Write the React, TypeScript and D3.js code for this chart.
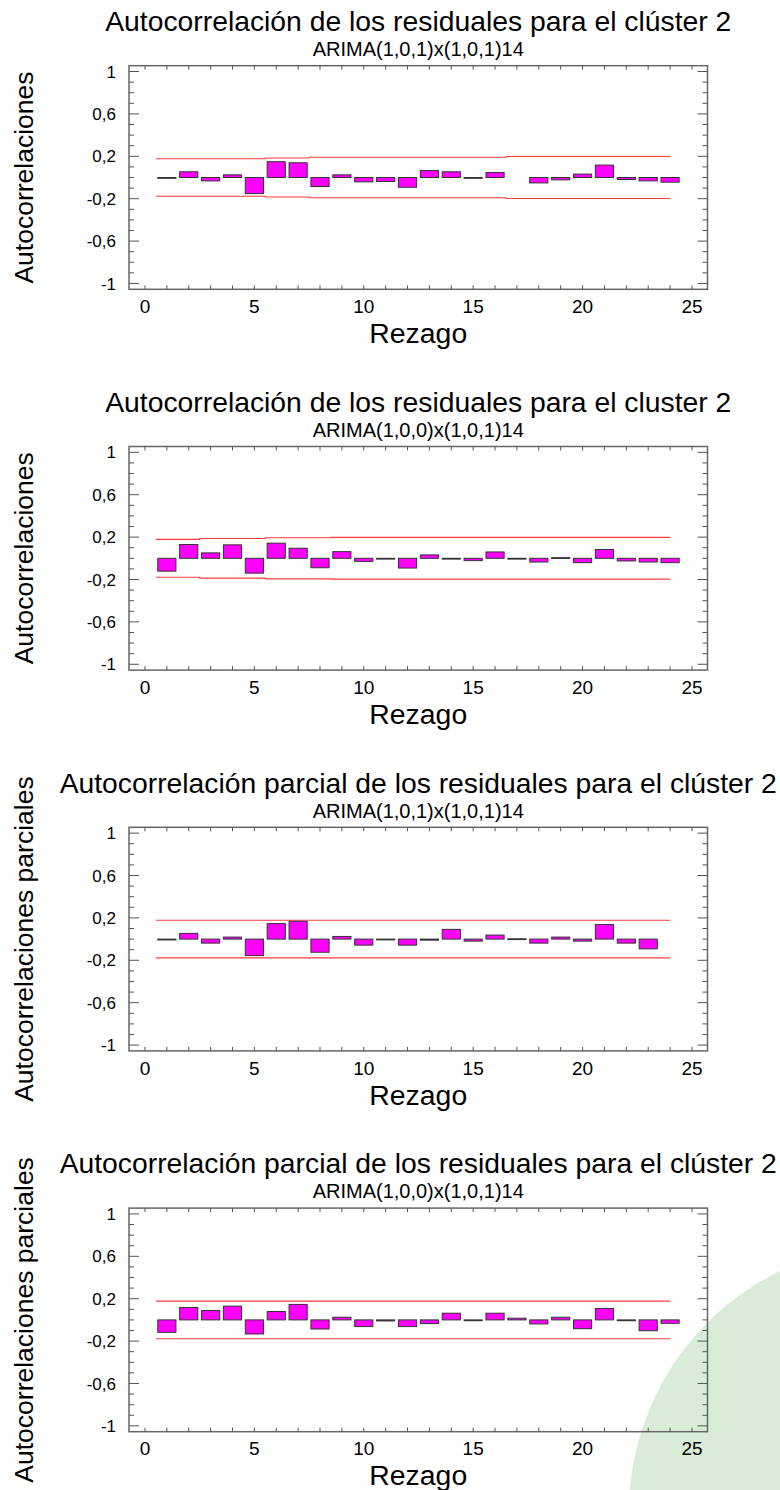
import React from "react";
import * as d3 from "d3";

// Lags 1..24 shown on every panel
const lags = d3.range(1, 25);
const xTicks = [0, 5, 10, 15, 20, 25];
const yTicks = [1, 0.6, 0.2, -0.2, -0.6, -1];
const yTickLabels = ["1", "0,6", "0,2", "-0,2", "-0,6", "-1"];

// Residual autocorrelations, ARIMA(1,0,1)x(1,0,1)14
const acfArima101 = [
  -0.005, 0.054, -0.032, 0.025, -0.152, 0.149, 0.139, -0.085, 0.025, -0.041, -0.038, -0.092,
  0.066, 0.054, -0.003, 0.047, 0, -0.051, -0.022, 0.032, 0.117, -0.019, -0.032, -0.044,
];
const acfLimit101 = [
  0.177, 0.177, 0.177, 0.177, 0.177, 0.184, 0.184, 0.191, 0.191, 0.191, 0.191, 0.191,
  0.191, 0.191, 0.191, 0.191, 0.198, 0.198, 0.198, 0.198, 0.198, 0.198, 0.198, 0.198,
];

// Residual autocorrelations, ARIMA(1,0,0)x(1,0,1)14
const acfArima100 = [
  -0.121, 0.13, 0.051, 0.127, -0.14, 0.143, 0.095, -0.089, 0.063, -0.029, -0.006, -0.092,
  0.032, -0.003, -0.022, 0.06, -0.003, -0.035, 0.006, -0.041, 0.083, -0.025, -0.035, -0.041,
];
const acfLimit100 = [
  0.179, 0.179, 0.187, 0.187, 0.187, 0.194, 0.194, 0.194, 0.197, 0.197, 0.197, 0.197,
  0.197, 0.197, 0.197, 0.197, 0.197, 0.197, 0.197, 0.197, 0.197, 0.197, 0.197, 0.197,
];

// Residual partial autocorrelations, ARIMA(1,0,1)x(1,0,1)14 (23 lags)
const pacfArima101 = [
  -0.008, 0.054, -0.038, 0.019, -0.156, 0.146, 0.168, -0.124, 0.025, -0.057, -0.002, -0.057,
  -0.01, 0.092, -0.019, 0.038, 0.003, -0.038, 0.019, -0.019, 0.137, -0.038, -0.092,
];
// Residual partial autocorrelations, ARIMA(1,0,0)x(1,0,1)14
const pacfArima100 = [
  -0.117, 0.117, 0.089, 0.13, -0.133, 0.079, 0.146, -0.086, 0.025, -0.063, -0.01, -0.063,
  -0.035, 0.063, -0.003, 0.063, 0.016, -0.038, 0.025, -0.083, 0.108, -0.003, -0.102, -0.032,
];
const pacfLimit = lags.map(() => 0.178);

const titles = [
  "Autocorrelación de los residuales para el clúster 2",
  "Autocorrelación de los residuales para el cluster 2",
  "Autocorrelación parcial de los residuales para el clúster 2",
  "Autocorrelación parcial de los residuales para el clúster 2",
];
const subtitles = [
  "ARIMA(1,0,1)x(1,0,1)14",
  "ARIMA(1,0,0)x(1,0,1)14",
  "ARIMA(1,0,1)x(1,0,1)14",
  "ARIMA(1,0,0)x(1,0,1)14",
];
const yLabels = [
  "Autocorrelaciones",
  "Autocorrelaciones",
  "Autocorrelaciones parciales",
  "Autocorrelaciones parciales",
];
const xLabel = "Rezago";
const seriesList = [acfArima101, acfArima100, pacfArima101, pacfArima100];
const limitList = [acfLimit101, acfLimit100, pacfLimit, pacfLimit];

const FONT = "'Liberation Sans', Arial, Helvetica, sans-serif";
const PANEL_STEP = 380.8;

const x = d3.scaleLinear().domain([-0.73, 25.71]).range([129, 707.5]);
const y = d3.scaleLinear().domain([-1.055, 1.055]).range([289.3, 65.7]);

function stepPath(limits: number[], sign: number): string {
  const pts: [number, number][] = [];
  limits.forEach((v, i) => {
    const k = i + 1;
    const x0 = Math.max(0, k - 0.5);
    const x1 = Math.min(limits.length, k + 0.5);
    pts.push([x(x0), y(sign * v)]);
    pts.push([x(x1), y(sign * v)]);
  });
  return d3.line()(pts) || "";
}

function Panel({ index }: { index: number }) {
  const values = seriesList[index];
  const limits = limitList[index];
  const [x0, x1] = x.range();
  const [yb, yt] = y.range();
  const cx = (x0 + x1) / 2;
  const cy = (yb + yt) / 2;
  const barW = x(0.83) - x(0);
  const minorY = d3.range(-10, 11).map((d) => d / 10);
  const lagTicks = d3.range(0, 26);

  return (
    <g transform={`translate(0,${index * PANEL_STEP})`}>
      <text x={cx} y={31} textAnchor="middle" fontSize={28.3} fill="#000">
        {titles[index]}
      </text>
      <text x={cx} y={56} textAnchor="middle" fontSize={20} fill="#000">
        {subtitles[index]}
      </text>

      {/* confidence limits */}
      <path d={stepPath(limits, 1)} fill="none" stroke="#ff3b3b" strokeWidth={1.2} />
      <path d={stepPath(limits, -1)} fill="none" stroke="#ff3b3b" strokeWidth={1.2} />

      {/* correlation bars */}
      {values.map((v, i) => {
        const lag = i + 1;
        if (Math.abs(v) < 0.0005) return null;
        const top = y(Math.max(0, v));
        const bottom = y(Math.min(0, v));
        const h = Math.max(0.8, bottom - top);
        return (
          <rect
            key={lag}
            x={x(lag) - barW / 2}
            y={top}
            width={barW}
            height={h}
            fill="#ff00ff"
            stroke="#333"
            strokeWidth={1}
          />
        );
      })}

      {/* frame */}
      <rect x={x0} y={yt} width={x1 - x0} height={yb - yt} fill="none" stroke="#666" strokeWidth={1.5} />

      {/* y ticks left and right */}
      {minorY.map((v) => {
        const major = yTicks.some((t) => Math.abs(t - v) < 1e-6);
        const len = major ? 10 : 5;
        return (
          <g key={`yt${v}`} stroke="#555" strokeWidth={1}>
            <line x1={x0} x2={x0 + len} y1={y(v)} y2={y(v)} />
            <line x1={x1 - len} x2={x1} y1={y(v)} y2={y(v)} />
          </g>
        );
      })}
      {/* x ticks top and bottom */}
      {lagTicks.map((t) => (
        <g key={`xt${t}`} stroke="#555" strokeWidth={1}>
          <line x1={x(t)} x2={x(t)} y1={yb} y2={yb - 4} />
          <line x1={x(t)} x2={x(t)} y1={yt} y2={yt + 4} />
        </g>
      ))}

      {yTicks.map((t, i) => (
        <text key={`yl${t}`} x={116} y={y(t)} dy="0.36em" textAnchor="end" fontSize={17} fill="#000">
          {yTickLabels[i]}
        </text>
      ))}
      {xTicks.map((t) => (
        <text key={`xl${t}`} x={x(t)} y={313} textAnchor="middle" fontSize={19} fill="#000">
          {t}
        </text>
      ))}

      <text x={cx} y={343} textAnchor="middle" fontSize={28.4} fill="#000">
        {xLabel}
      </text>
      <text
        transform={`translate(33,${cy}) rotate(-90)`}
        textAnchor="middle"
        fontSize={26.5}
        fill="#000"
      >
        {yLabels[index]}
      </text>
    </g>
  );
}

export default function App() {
  return (
    <svg
      width={780}
      height={1490}
      style={{ position: "absolute", left: 0, top: 0, background: "#fff" }}
      fontFamily={FONT}
    >
      <rect x={0} y={0} width={780} height={1490} fill="#fff" />
      <circle cx={897} cy={1512} r={268} fill="#d9ecd7" />
      {[0, 1, 2, 3].map((i) => (
        <Panel key={i} index={i} />
      ))}
    </svg>
  );
}
